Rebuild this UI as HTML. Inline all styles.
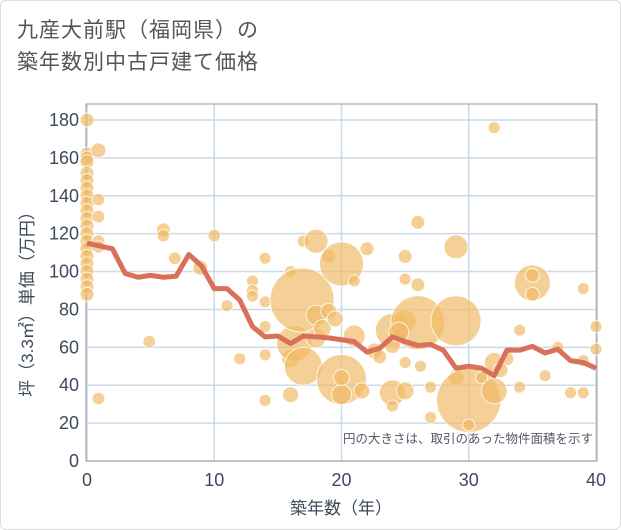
<!DOCTYPE html>
<html><head><meta charset="utf-8"><style>
body{margin:0;background:#fff;font-family:"Liberation Sans","Noto Sans CJK JP",sans-serif;}
#wrap{position:relative;width:619px;height:528px;border:1px solid #ddd;border-radius:6px;overflow:hidden;}
.title{position:absolute;left:16px;top:14px;font-size:21px;line-height:32px;color:#555;letter-spacing:1px;}
</style></head><body>
<div id="wrap">
<div class="title">九産大前駅（福岡県）の<br>築年数別中古戸建て価格</div>
<svg id="chart" width="621" height="530" style="position:absolute;left:-1px;top:-1px"></svg>
</div>
<script>
const xTicks=[0,10,20,30,40];
const yTicks=[0,20,40,60,80,100,120,140,160,180];
const lineYears=[0,1,2,3,4,5,6,7,8,9,10,11,12,13,14,15,16,17,18,19,20,21,22,23,24,25,26,27,28,29,30,31,32,33,34,35,36,37,38,39,40];
const lineValues=[115,113.5,112,99,97,98,97,97.5,109,103,91,91,85,71,65.5,66,62,66,65.5,65,64,63,57.5,59.5,65.5,63,61,61.5,58.5,49,50,49,45,58.5,58.5,60.5,57,59,53,52,49];
const bubbleX=[0,0,0,0,0,0,0,0,0,0,0,0,0,0,0,0,0,0,0,0,0,0.9,0.9,0.9,0.9,0.9,0.9,4.9,6,6,6.9,8.9,10,11,12,13,13,13,14,14,14,14,14,16,16,16,16.3,16.9,17,17,18,18,18,19,19,20,20,20,20,21,21.6,22,22.6,24,24,24,24,25,25,25,25,25,26,26,26,26.2,27,27,29,29,29,30,30,31,32,32,32,33,34,34,35,35,35,36,37,38,39,39,39,40,40,18.5,19.5,21,23,24.5,32.5];
const bubbleY=[180,162,160,158,152,148,144,140,136,132,128,124,120,116,112,108,104,100,96,92,88,164,138,129,116,113,33,63,122,119,107,102,119,82,54,95,90,87,107,84,71,56,32,100,54,35,62,85,116,50,116,77,65,108,79,104,43,35,44,95,37,112,58,69,61,36,29,108,96,74,52,37,126,93,73,50,39,23,113,74,44,32,19,44,176,52,37,54,69,39,94,98,88,45,60,36,91,53,36,71,59,70,75,66,55,68,48];
const bubbleArea=[12,12,12,12,12,12,12,12,12,12,12,12,12,12,12,12,12,12,12,12,12,14,10,10,10,10,10,10,12,10,10,14,10,9,9,9,9,9,9,9,9,9,9,9,20,16,80,256,9,90,36,25,25,12,16,121,156,25,16,9,16,12,16,72,16,42,9,12,9,30,9,20,12,12,182,9,9,9,36,156,16,256,9,9,9,25,42,12,9,9,81,12,12,9,9,9,9,9,9,9,9,20,16,30,12,25,14];
const svg=document.getElementById('chart');
const NS='http://www.w3.org/2000/svg';
const L=87,R=596,T=104,B=461;
const xs=v=>L+(v-0)/40*(R-L);
const ys=v=>B-v/180*(B-120);
function mk(t,a){const e=document.createElementNS(NS,t);for(const k in a)e.setAttribute(k,a[k]);svg.appendChild(e);return e;}
let e=mk('rect',{x:86,y:T,width:R-86+1,height:B-T,fill:'#fff'});


yTicks.forEach(v=>{
 let g=mk('line',{x1:86,x2:R,y1:ys(v),y2:ys(v),stroke:'#ccd9e8','stroke-width':1.5});
 
 
 let t=mk('text',{x:79,y:ys(v)+6,'text-anchor':'end','font-size':18,fill:'#3d4a5c'});t.textContent=v;
 
 
});
xTicks.forEach(v=>{
 let g=mk('line',{x1:xs(v),x2:xs(v),y1:T,y2:B,stroke:'#ccd9e8','stroke-width':1.5});
 
 
 let t=mk('text',{x:xs(v),y:486,'text-anchor':'middle','font-size':18,fill:'#3d4a5c'});t.textContent=v;
 
 
});
e=mk('rect',{x:86,y:T,width:R-86+1,height:B-T,fill:'none',stroke:'#999','stroke-width':1});


bubbleX.forEach((x,i)=>{
 let c=mk('circle',{cx:xs(x),cy:ys(bubbleY[i]),r:Math.sqrt(bubbleArea[i])*2,fill:'rgba(240,185,100,0.68)',stroke:'rgba(255,255,255,0.8)','stroke-width':1});
 
 
});
let p=mk('polyline',{points:lineYears.map((x,i)=>xs(x)+','+ys(lineValues[i])).join(' '),fill:'none',stroke:'#d9705a','stroke-width':5,'stroke-linejoin':'round'});


e=mk('text',{x:593,y:443,'text-anchor':'end','font-size':12.5,fill:'#556'});e.textContent='円の大きさは、取引のあった物件面積を示す';


e=mk('text',{x:341,y:514,'text-anchor':'middle','font-size':17,fill:'#3d4a5c'});e.textContent='築年数（年）';


e=mk('text',{x:0,y:0,'text-anchor':'middle','font-size':17,fill:'#3d4a5c',transform:'translate(33,300) rotate(-90)'});e.textContent='坪（3.3㎡）単価（万円）';


</script>
</body></html>
